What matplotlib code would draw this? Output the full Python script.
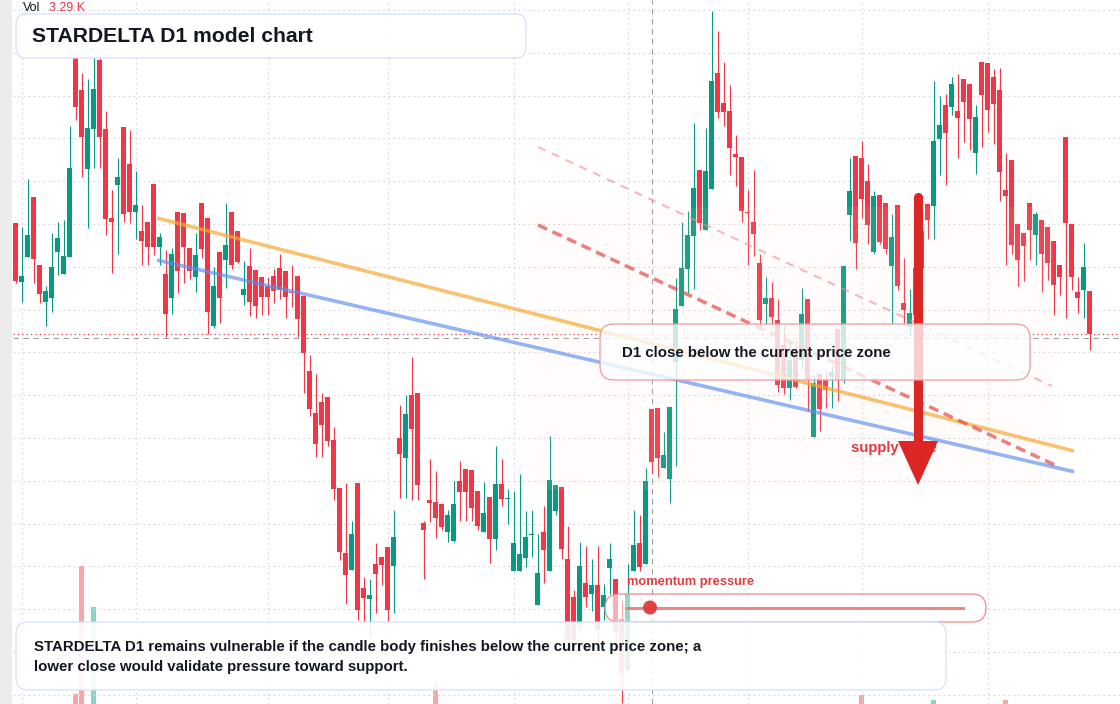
import matplotlib
matplotlib.use("Agg")
import matplotlib.pyplot as plt
import numpy as np
from matplotlib.patches import FancyBboxPatch, Rectangle, Polygon, Circle
from matplotlib.transforms import IdentityTransform

W, H = 1120, 704
RED = "#f23645"
GREEN = "#089981"
INK = "#131722"

plt.rcParams['font.family'] = ['Liberation Sans', 'DejaVu Sans']

# daily candles (price units)
opens = [
    57.67, 51.83, 54.33, 60.30, 53.50, 49.83, 50.23, 54.83, 52.63, 54.33,
    74.17, 71.00, 63.13, 67.13, 74.00, 67.10, 58.20, 61.50, 67.30, 63.60,
    58.80, 56.90, 57.80, 61.60, 55.33, 52.60, 50.23, 58.80, 58.70, 55.20,
    52.33, 59.70, 58.20, 47.43, 54.80, 54.00, 58.80, 56.90, 50.53, 53.40,
    53.00, 52.30, 51.40, 52.40, 53.20, 52.90, 50.80, 52.40, 50.40, 42.90,
    38.70, 39.80, 40.30, 36.00, 31.23, 24.73, 23.03, 31.73, 21.23, 20.13,
    23.60, 24.30, 25.30, 23.43, 36.20, 34.23, 40.50, 40.70, 27.70, 30.00,
    29.80, 29.60, 26.83, 25.93, 31.90, 33.10, 33.00, 30.90, 26.83, 30.30,
    26.13, 31.60, 30.07, 22.93, 22.93, 24.23, 26.50, 19.53, 26.80, 22.93,
    28.93, 31.30, 24.10, 20.30, 17.50, 21.70, 20.60, 21.50, 19.30, 23.20,
    22.10, 18.10, 13.00, 22.90, 25.70, 23.60, 39.10, 39.20, 33.20, 32.10,
    43.80, 49.43, 53.13, 56.43, 63.00, 57.00, 61.10, 72.70, 69.70, 68.90,
    64.60, 64.30, 58.80, 57.80, 53.67, 49.63, 50.23, 48.00, 45.50, 41.23,
    45.00, 44.00, 50.10, 36.30, 42.60, 42.00, 42.33, 47.10, 42.00, 58.50,
    64.40, 64.20, 61.90, 54.80, 60.50, 59.70, 53.43, 59.50, 49.70, 47.33,
    48.50, 53.23, 59.60, 59.43, 66.13, 69.50, 69.33, 68.90, 72.10, 71.60,
    64.73, 73.80, 73.70, 72.30, 71.00, 61.00, 64.00, 57.60, 56.70, 59.70,
    56.53, 58.00, 57.30, 55.90, 53.50, 66.30, 57.60, 50.83, 51.03, 50.90,
]
highs = [
    57.67, 57.33, 62.10, 60.30, 53.50, 51.40, 56.73, 57.80, 58.00, 67.40,
    74.80, 72.70, 72.10, 74.30, 74.20, 68.90, 61.00, 64.20, 67.30, 67.00,
    62.90, 59.50, 57.80, 61.60, 56.73, 55.00, 55.20, 58.80, 58.70, 55.20,
    56.73, 59.70, 58.20, 53.27, 54.80, 59.70, 58.80, 56.90, 53.90, 55.20,
    53.00, 52.30, 52.30, 53.10, 54.60, 52.90, 53.50, 52.40, 50.40, 44.50,
    42.60, 40.70, 40.30, 37.33, 31.23, 31.73, 27.90, 31.73, 22.33, 22.13,
    25.70, 24.30, 25.30, 29.00, 39.50, 40.50, 44.30, 40.70, 27.90, 34.10,
    32.90, 29.70, 29.00, 31.90, 33.90, 33.10, 33.00, 30.90, 31.80, 30.30,
    35.40, 34.10, 31.10, 30.90, 32.63, 28.90, 29.00, 26.60, 29.40, 36.40,
    31.50, 31.30, 27.40, 21.00, 25.80, 25.45, 24.10, 25.45, 21.60, 25.70,
    22.10, 20.00, 23.60, 29.00, 28.50, 33.20, 39.10, 39.20, 36.85, 39.30,
    52.25, 57.83, 58.93, 67.70, 63.00, 67.20, 78.87, 76.90, 73.80, 71.50,
    66.50, 64.30, 61.00, 63.00, 54.60, 52.33, 51.80, 50.10, 47.50, 46.00,
    46.00, 51.20, 50.10, 42.50, 42.60, 42.80, 43.50, 47.10, 53.40, 64.20,
    64.40, 65.90, 63.60, 60.90, 60.50, 59.70, 58.60, 59.50, 54.20, 51.10,
    54.00, 57.50, 59.60, 71.90, 70.40, 70.60, 72.30, 72.60, 72.10, 71.60,
    69.50, 73.80, 73.70, 73.10, 73.20, 64.70, 64.00, 57.60, 56.70, 59.70,
    58.80, 58.00, 57.30, 55.90, 53.50, 66.30, 57.60, 52.33, 55.73, 50.90,
]
lows = [
    51.73, 49.83, 54.33, 51.67, 49.73, 47.43, 48.83, 52.53, 52.63, 54.33,
    68.00, 62.33, 57.23, 63.23, 63.23, 56.50, 52.73, 54.60, 57.80, 57.67,
    56.07, 53.50, 53.50, 54.50, 53.50, 46.33, 48.63, 50.73, 51.67, 52.13,
    50.83, 54.23, 46.57, 47.23, 47.73, 51.23, 53.13, 53.73, 49.50, 48.43,
    48.23, 48.53, 48.53, 49.73, 50.13, 48.23, 49.33, 46.33, 40.73, 38.43,
    34.33, 34.33, 35.43, 30.03, 24.03, 19.63, 23.03, 18.00, 17.83, 16.20,
    18.70, 21.53, 17.70, 18.73, 30.23, 30.23, 30.03, 30.03, 22.13, 27.83,
    26.23, 27.03, 25.83, 25.83, 27.93, 27.93, 27.93, 27.03, 26.83, 23.73,
    25.03, 29.43, 27.63, 22.93, 22.93, 23.33, 24.33, 19.53, 21.73, 22.93,
    28.53, 24.13, 15.00, 14.80, 16.80, 19.30, 18.90, 15.80, 18.00, 20.60,
    15.80, 9.70, 12.80, 22.90, 22.90, 23.60, 32.70, 32.30, 33.20, 29.70,
    33.40, 49.43, 50.67, 51.13, 57.00, 57.00, 61.10, 68.17, 67.43, 62.50,
    61.43, 57.83, 53.53, 54.43, 47.33, 47.50, 47.50, 40.80, 40.60, 40.00,
    41.20, 43.20, 38.93, 36.30, 36.93, 39.23, 39.23, 39.93, 41.70, 55.93,
    53.10, 58.23, 55.63, 54.63, 55.63, 54.63, 47.67, 51.00, 47.67, 46.50,
    48.00, 53.00, 56.10, 56.10, 62.53, 61.50, 68.53, 64.23, 65.83, 65.03,
    62.63, 65.33, 66.83, 65.63, 59.93, 53.53, 54.63, 51.43, 51.93, 54.03,
    53.53, 50.83, 52.03, 48.53, 50.53, 48.23, 51.03, 48.73, 48.23, 45.03,
]
closes = [
    51.93, 52.40, 56.50, 54.13, 50.63, 50.90, 53.30, 56.20, 54.40, 63.20,
    69.33, 66.33, 67.20, 71.10, 66.33, 58.10, 57.80, 62.33, 58.60, 58.80,
    59.50, 55.90, 55.33, 55.33, 56.30, 48.63, 54.60, 52.93, 55.33, 52.93,
    54.50, 55.10, 48.83, 51.40, 50.23, 55.50, 53.53, 53.80, 51.10, 49.83,
    49.43, 50.33, 50.33, 50.93, 51.03, 50.33, 50.70, 48.13, 44.73, 39.13,
    35.63, 37.53, 35.93, 31.13, 24.83, 22.53, 26.60, 19.03, 20.23, 20.53,
    22.63, 23.53, 19.03, 26.30, 34.63, 38.60, 37.13, 31.53, 27.03, 29.73,
    28.23, 27.33, 28.50, 29.60, 30.83, 30.83, 29.23, 27.43, 28.70, 26.13,
    31.60, 30.13, 30.20, 25.70, 24.60, 26.30, 26.60, 22.70, 25.03, 32.00,
    31.50, 25.13, 16.00, 16.00, 23.40, 20.30, 21.50, 17.00, 20.50, 24.10,
    16.80, 12.70, 20.60, 25.50, 23.30, 31.95, 33.80, 34.25, 34.50, 39.30,
    49.10, 53.20, 56.50, 61.20, 57.73, 62.90, 71.90, 68.83, 68.83, 65.23,
    64.33, 58.93, 58.73, 56.63, 48.00, 50.23, 48.27, 41.50, 41.20, 44.00,
    41.33, 48.60, 42.00, 41.70, 39.10, 41.00, 42.83, 42.00, 53.40, 60.93,
    55.73, 60.13, 57.53, 60.40, 55.83, 55.10, 56.30, 51.43, 49.03, 48.70,
    53.20, 56.90, 58.00, 65.90, 67.50, 66.73, 71.60, 68.23, 69.83, 68.13,
    68.30, 70.50, 69.00, 69.60, 62.83, 60.43, 55.53, 54.03, 55.43, 57.03,
    58.60, 54.63, 53.73, 51.53, 52.33, 57.73, 52.33, 50.23, 53.30, 46.63,
]

# volume (thousands); only the spikes reach into the visible window
vol_bars = [10, 11, 13, 70, 141, 153, 165, 179]
vol_k = [5.3, 11.7, 9.65, 5.9, 5.25, 5.0, 5.0, 3.29]

# time grid (bar index of each period start) and crosshair
grid_bars = [1, 20, 42, 62, 83, 102, 122, 141, 162]
crosshair_bar = 106
crosshair_price = 46.2

# drawn trend lines: (bar index, price) at both ends
orange_x, orange_p = [23.55, 176.4], [58.2, 34.9]
blue_x, blue_p = [23.55, 176.4], [54.0, 32.83]
red_dash_x, red_dash_p = [87.05, 173.2], [57.5, 33.5]
pale_dash_x, pale_dash_p = [87.05, 172.7], [65.3, 41.4]

title = "STARDELTA D1 model chart"
callout = "D1 close below the current price zone"
note_lines = [
    "STARDELTA D1 remains vulnerable if the candle body finishes below the current price zone; a",
    "lower close would validate pressure toward support.",
]


def pix(x, y):
    # screenshot pixel (top-left origin) -> display coords
    return x, H - y


def rounded_box(ax, x0, y0, x1, y1, r, alpha, edge, z, lw=0.9):
    bx, by = pix(x0, y1)
    box = FancyBboxPatch((bx, by), x1 - x0, y1 - y0,
                         boxstyle=f"round,pad=0,rounding_size={r}",
                         transform=IdentityTransform(), clip_on=False,
                         facecolor=(1, 1, 1, alpha), edgecolor=edge,
                         linewidth=lw, zorder=z)
    ax.add_patch(box)


def label(ax, x, y, s, size, color=INK, weight="bold", z=6):
    tx, ty = pix(x, y)
    ax.text(tx, ty, s, transform=IdentityTransform(), fontsize=size,
            color=color, fontweight=weight, ha="left", va="center", zorder=z)


fig = plt.figure(figsize=(W / 100, H / 100), dpi=100)
fig.patch.set_facecolor("white")

idx = np.arange(len(opens))
o = np.array(opens)
h = np.array(highs)
l = np.array(lows)
c = np.array(closes)
up = c >= o
colors = np.where(up, GREEN, RED)

xlim = (-2.617, 184.05)

# volume pane sits underneath the price pane
vax = fig.add_axes([0, 0, 1, 1])
vax.set_xlim(*xlim)
vax.set_ylim(4.8, 40)
vax.set_axis_off()
vcol = [GREEN if up[i] else RED for i in vol_bars]
vax.bar(vol_bars, vol_k, width=0.78, color=vcol, alpha=0.45, linewidth=0)

ax = fig.add_axes([0, 0, 1, 1])
ax.set_xlim(*xlim)
ax.set_ylim(9.6, 80)
ax.set_axis_off()

# dotted grid
for p in 79.0 - 4.28 * np.arange(17):
    ax.axhline(p, xmin=13 / W, color="#d4d4d4", lw=0.8, ls=(0, (1.5, 3)), zorder=0.5)
for b in grid_bars:
    ax.axvline(b, color="#d4d4d4", lw=0.8, ls=(0, (1.5, 3)), zorder=0.5)

# left price-scale strip
ax.add_patch(Rectangle(pix(0, H), 12, H, transform=IdentityTransform(),
                       facecolor="#ececec", edgecolor="none", zorder=0.6))

# crosshair and last price
ax.axvline(crosshair_bar, color="#9e9e9e", lw=0.8, ls=(0, (5, 4)), zorder=1.5)
ax.axhline(crosshair_price, xmin=13 / W, color="#9e9e9e", lw=0.8, ls=(0, (5, 4)), zorder=1.5)
ax.axhline(closes[-1], xmin=13 / W, color=RED, lw=0.9, ls=(0, (1, 2.5)), zorder=1.5)

# candles
ax.vlines(idx, l, h, colors=colors, lw=0.8, zorder=2)
body_low = np.minimum(o, c)
body_h = np.maximum(np.abs(c - o), 0.12)
ax.bar(idx, body_h, bottom=body_low, width=0.78, color=colors, linewidth=0, zorder=2.1)

# faint supply zone
ax.add_patch(Rectangle(pix(527, 490), 1053 - 527, 490 - 207, transform=IdentityTransform(),
                       facecolor=(1, 0.9, 0.83, 0.09), edgecolor="none", zorder=2.5))

# trend lines
ax.plot(orange_x, orange_p, color="#f7a833", alpha=0.7, lw=2.6, solid_capstyle="butt", zorder=3)
ax.plot(blue_x, blue_p, color="#5b8def", alpha=0.65, lw=2.6, solid_capstyle="butt", zorder=3)
ax.plot(pale_dash_x, pale_dash_p, color="#f08a8f", alpha=0.6, lw=1.5, ls=(0, (3.9, 3.4)), zorder=3)
ax.plot(red_dash_x, red_dash_p, color="#e5484d", alpha=0.7, lw=2.5, ls=(0, (2.9, 1.7)), zorder=3)

# supply label sits behind the arrow
label(ax, 851, 448, "supply zone", 10.7, color="#e5383b", z=4.1)

# down arrow
sx, sy0 = pix(918, 197)
_, sy1 = pix(918, 446)
ax.plot([sx, sx], [sy0, sy1], transform=IdentityTransform(), color="#dc2626",
        lw=6.6, solid_capstyle="round", zorder=4.2)
ax.add_patch(Polygon([pix(898, 441), pix(938, 441), pix(918, 485)], closed=True,
                     transform=IdentityTransform(), facecolor="#dc2626",
                     edgecolor="none", zorder=4.2))

# header
label(ax, 23, 8, "Vol", 9, weight="normal")
label(ax, 49, 8, "3.29 K", 9, color=RED, weight="normal")
rounded_box(ax, 16, 14, 526, 58, 10, 0.92, "#d4e2fa", 5)
label(ax, 32, 36, title, 15.2)

# callout
rounded_box(ax, 600, 324, 1030, 380, 14, 0.78, "#ef9aa0", 5)
label(ax, 622, 353, callout, 10.8)

# momentum slider
label(ax, 627, 582, "momentum pressure", 9.3, color="#e03c3c")
rounded_box(ax, 605, 594, 986, 622, 14, 0.6, "#ef8a8a", 5)
mx0, my = pix(627, 607.5)
mx1, _ = pix(963, 607.5)
ax.plot([mx0, mx1], [my, my], transform=IdentityTransform(), color="#e57373",
        alpha=0.85, lw=2.2, zorder=5.5)
ax.add_patch(Circle(pix(650, 607.5), 7, transform=IdentityTransform(),
                    facecolor="#e03a3a", edgecolor="none", alpha=0.95, zorder=5.6))

# bottom note
rounded_box(ax, 16, 622, 946, 690, 12, 0.9, "#d4e2fa", 5)
label(ax, 34, 647, note_lines[0], 10.8)
label(ax, 34, 667, note_lines[1], 10.8)

fig.savefig("out.png", dpi=100, facecolor="white")
